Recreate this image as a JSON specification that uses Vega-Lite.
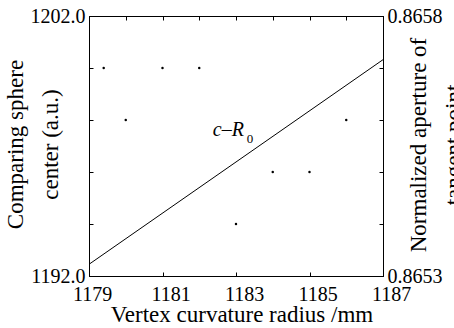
{
  "$schema": "https://vega.github.io/schema/vega-lite/v6.json",
  "width": 294,
  "height": 260,
  "autosize": "none",
  "padding": {"left": 89, "top": 16, "right": 71, "bottom": 52},
  "background": "white",
  "config": {
    "font": "Liberation Serif",
    "view": {"stroke": "black", "strokeWidth": 1},
    "axis": {
      "domainColor": "black",
      "domainWidth": 1,
      "tickColor": "black",
      "tickWidth": 1,
      "tickSize": -4,
      "labelColor": "black",
      "titleColor": "black",
      "labelFont": "Liberation Serif",
      "titleFont": "Liberation Serif",
      "labelFontSize": 20,
      "titleFontSize": 23,
      "titleFontWeight": "normal",
      "grid": false,
      "labelFlush": false,
      "labelOverlap": false
    }
  },
  "layer": [
    {
      "layer": [
        {
          "data": {"values": [
            {"radius": 1179, "center": 1192.45},
            {"radius": 1187, "center": 1200.32}
          ]},
          "mark": {"type": "line", "color": "black", "strokeWidth": 1},
          "encoding": {
            "x": {
              "field": "radius", "type": "quantitative",
              "scale": {"domain": [1179, 1187], "nice": false, "zero": false},
              "axis": {
                "orient": "bottom",
                "title": "Vertex curvature radius /mm",
                "values": [1179, 1180, 1181, 1182, 1183, 1184, 1185, 1186, 1187],
                "format": "d",
                "labelExpr": "datum.value % 2 == 1 ? datum.label : ''",
                "labelPadding": 12,
                "labelBaseline": "top",
                "labelOffset": {"condition": {"test": "datum.value <= 1179", "value": 3}, "value": 8},
                "titleX": 152.5,
                "titleY": 45,
                "titleAlign": "center",
                "titleBaseline": "alphabetic"
              }
            },
            "y": {
              "field": "center", "type": "quantitative",
              "scale": {"domain": [1192, 1202], "nice": false, "zero": false},
              "axis": {
                "orient": "left",
                "title": ["Comparing sphere", "center (a.u.)"],
                "values": [1192, 1194, 1196, 1198, 1200, 1202],
                "format": ".1f",
                "labelExpr": "datum.value == 1192 || datum.value == 1202 ? datum.label : ''",
                "labelPadding": 8,
                "titleAngle": -90,
                "titleX": -74,
                "titleY": 128,
                "titleAlign": "center",
                "titleBaseline": "middle",
                "titleLineHeight": 35
              }
            }
          }
        },
        {
          "data": {"values": [{"label": "c–R"}]},
          "mark": {"type": "text", "fontStyle": "italic", "fontSize": 20, "align": "left", "baseline": "alphabetic", "color": "#000000", "font": "Liberation Serif"},
          "encoding": {
            "x": {"datum": 1182.37, "type": "quantitative"},
            "y": {"datum": 1197.38, "type": "quantitative"},
            "text": {"field": "label"}
          }
        },
        {
          "data": {"values": [{"label": "0"}]},
          "mark": {"type": "text", "fontSize": 13, "align": "left", "baseline": "alphabetic", "color": "#000000", "font": "Liberation Serif"},
          "encoding": {
            "x": {"datum": 1183.29, "type": "quantitative"},
            "y": {"datum": 1197.12, "type": "quantitative"},
            "text": {"field": "label"}
          }
        }
      ]
    },
    {
      "data": {"values": [
        {"radius": 1179.4, "aperture": 0.8657},
        {"radius": 1181, "aperture": 0.8657},
        {"radius": 1182, "aperture": 0.8657},
        {"radius": 1180, "aperture": 0.8656},
        {"radius": 1186, "aperture": 0.8656},
        {"radius": 1184, "aperture": 0.8655},
        {"radius": 1185, "aperture": 0.8655},
        {"radius": 1183, "aperture": 0.8654}
      ]},
      "mark": {"type": "point", "filled": true, "color": "black", "size": 6, "opacity": 1},
      "encoding": {
        "x": {
          "field": "radius", "type": "quantitative",
          "scale": {"domain": [1179, 1187], "nice": false, "zero": false},
          "axis": {
            "orient": "top",
            "title": null,
            "values": [1179, 1180, 1181, 1182, 1183, 1184, 1185, 1186, 1187],
            "labels": false
          }
        },
        "y": {
          "field": "aperture", "type": "quantitative",
          "scale": {"domain": [0.8653, 0.8658], "nice": false, "zero": false},
          "axis": {
            "orient": "right",
            "title": ["Normalized aperture of", "tangent point"],
            "values": [0.8653, 0.8654, 0.8655, 0.8656, 0.8657, 0.8658],
            "format": ".4f",
            "labelExpr": "abs(datum.value - 0.8653) < 0.000001 || abs(datum.value - 0.8658) < 0.000001 ? datum.label : ''",
            "labelPadding": 8,
            "titleAngle": 270,
            "titleX": 35.5,
            "titleY": 128.5,
            "titleAlign": "center",
            "titleBaseline": "middle",
            "titleLineHeight": 35
          }
        }
      }
    }
  ],
  "resolve": {"scale": {"y": "independent"}, "axis": {"x": "independent"}}
}
